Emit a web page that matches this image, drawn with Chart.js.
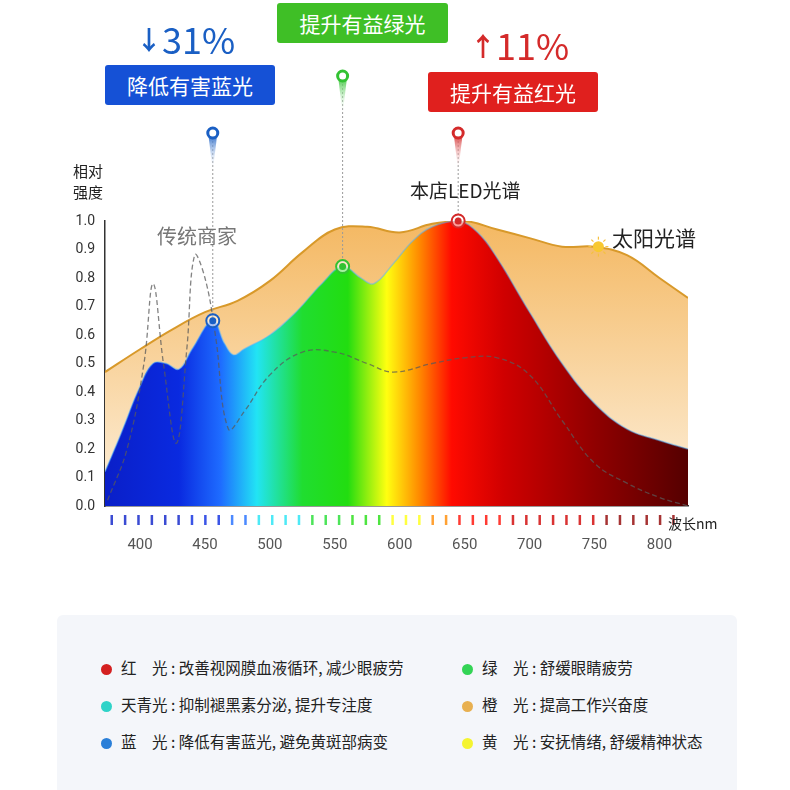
<!DOCTYPE html>
<html><head><meta charset="utf-8">
<script src="https://cdn.jsdelivr.net/npm/chart.js@4"></script>
<style>
body{margin:0;width:790px;height:790px;background:#fff;font-family:"Noto Sans CJK SC","Noto Sans",sans-serif;position:relative;overflow:hidden}
#c{position:absolute;left:0;top:0}
.t{position:absolute;white-space:nowrap}
.box{position:absolute;color:#fff;font-size:21px;text-align:center;line-height:40px;height:40px;border-radius:3px}
.legend{position:absolute;left:57px;top:615px;width:680px;height:180px;background:#f4f6fa;border-radius:6px}
.li{position:absolute;font-size:15.5px;color:#222}
.li i{display:inline-block;width:11px;height:11px;border-radius:50%;margin-right:9px;vertical-align:-1px}
</style></head><body>
<canvas id="c" width="790" height="790"></canvas>
<div class="t" style="left:136px;top:12px;font-size:36px;color:#1a5fc4"><b style="font-size:26px;vertical-align:4px">↓</b>31%</div>
<div class="box" style="left:105px;top:65px;width:170px;background:#1551d6">降低有害蓝光</div>
<div class="box" style="left:277px;top:3px;width:171px;background:#3fbf26">提升有益绿光</div>
<div class="t" style="left:470px;top:18px;font-size:36px;color:#d42a2a"><b style="font-size:26px;vertical-align:4px">↑</b>11%</div>
<div class="box" style="left:428px;top:72px;width:170px;background:#e0201e">提升有益红光</div>
<div class="t" style="left:410px;top:176px;font-size:19px;color:#222">本店LED光谱</div>
<div class="t" style="left:157px;top:221px;font-size:20px;color:#777">传统商家</div>
<div class="t" style="left:612px;top:222px;font-size:21px;color:#222">太阳光谱</div>
<div class="t" style="left:73px;top:160px;font-size:15px;color:#222;line-height:21px">相对<br>强度</div>
<div class="t" style="left:668px;top:513px;font-size:14px;color:#222">波长nm</div>
<div class="legend"></div>
<div id="leg"></div>
<script>
// wavelength (nm) / relative intensity
const sunNm  = [373, 400, 425, 450, 475, 500, 525, 550, 575, 600, 625, 650, 675, 700, 725, 750, 775, 800, 822];
const sunVal = [0.47, 0.55, 0.62, 0.68, 0.72, 0.79, 0.89, 0.97, 0.98, 0.96, 0.99, 1.0, 0.97, 0.94, 0.91, 0.91, 0.88, 0.80, 0.73];
const ledNm  = [373, 385, 400, 410, 420, 430, 440, 456, 465, 472, 480, 500, 520, 540, 556, 570, 580, 595, 610, 625, 645, 660, 675, 700, 725, 750, 775, 800, 822];
const ledVal = [0.12, 0.25, 0.42, 0.50, 0.50, 0.48, 0.55, 0.65, 0.57, 0.53, 0.55, 0.60, 0.68, 0.78, 0.84, 0.80, 0.78, 0.85, 0.93, 0.98, 1.0, 0.96, 0.87, 0.68, 0.50, 0.36, 0.27, 0.23, 0.20];
const oldNm  = [375, 390, 403, 410, 418, 428, 436, 442, 450, 458, 468, 480, 500, 525, 550, 575, 595, 625, 650, 675, 700, 725, 750, 775, 800, 822];
const oldVal = [0.02, 0.2, 0.5, 0.78, 0.5, 0.22, 0.55, 0.88, 0.8, 0.6, 0.27, 0.33, 0.46, 0.54, 0.54, 0.50, 0.47, 0.50, 0.52, 0.52, 0.46, 0.30, 0.15, 0.08, 0.03, 0.0];
const xTicks = [400, 450, 500, 550, 600, 650, 700, 750, 800];
const markers = [
  { nm: 456, v: 0.65, color: '#1a5fc4', pinY: 133 },
  { nm: 556, v: 0.84, color: '#32c232', pinY: 76 },
  { nm: 645, v: 1.0,  color: '#d42a2a', pinY: 133 },
];
const legendItems = [
  ['#d42020', '红　光 : 改善视网膜血液循环, 减少眼疲劳', 0, 0], ['#33d455', '绿　光 : 舒缓眼睛疲劳', 1, 0],
  ['#2fd3c8', '天青光 : 抑制褪黑素分泌, 提升专注度', 0, 1], ['#e8b050', '橙　光 : 提高工作兴奋度', 1, 1],
  ['#2a7fd8', '蓝　光 : 降低有害蓝光, 避免黄斑部病变', 0, 2], ['#f4f430', '黄　光 : 安抚情绪, 舒缓精神状态', 1, 2],
];
document.getElementById('leg').innerHTML = legendItems.map(([c, s, col, row]) =>
  `<div class="li" style="left:${col ? 462 : 101}px;top:${656 + row * 37}px"><i style="background:${c}"></i>${s}</div>`).join('');

const pts = (xs, ys) => xs.map((x, i) => ({ x, y: ys[i] }));

const spectrumStops = [[373,'#0a1fc8'],[430,'#0a2ae0'],[462,'#1e6cff'],[490,'#22e4f4'],[525,'#20dd30'],[560,'#22dd10'],[590,'#ffff10'],[615,'#ff8a00'],[640,'#ff0a00'],[680,'#d00000'],[750,'#900000'],[822,'#550000']];

const deco = {
  id: 'deco',
  beforeDatasetsDraw(ch) {
    // colored wavelength tick marks below axis
    const { ctx, scales: { x } } = ch;
    for (let nm = 378; nm <= 818; nm += 10.3) {
      const px = x.getPixelForValue(nm);
      let col = spectrumStops[0][1];
      spectrumStops.forEach(s => { if (nm >= s[0]) col = s[1]; });
      ctx.save(); ctx.globalAlpha = 0.8; ctx.fillStyle = col;
      ctx.fillRect(px - 1, 515, 2.5, 10); ctx.restore();
    }
  },
  afterDatasetsDraw(ch) {
    const { ctx, scales: { x, y } } = ch;
    markers.forEach(m => {
      const px = x.getPixelForValue(m.nm), py = y.getPixelForValue(m.v);
      ctx.save();
      ctx.setLineDash([2, 2]); ctx.strokeStyle = '#999'; ctx.lineWidth = 1;
      ctx.beginPath(); ctx.moveTo(px, m.pinY + 8); ctx.lineTo(px, py); ctx.stroke();
      ctx.setLineDash([]);
      const g = ctx.createLinearGradient(0, m.pinY, 0, m.pinY + 38);
      g.addColorStop(0, m.color); g.addColorStop(1, 'rgba(255,255,255,0)');
      ctx.fillStyle = g;
      ctx.beginPath(); ctx.moveTo(px - 4, m.pinY + 5); ctx.lineTo(px + 4, m.pinY + 5); ctx.lineTo(px, m.pinY + 38); ctx.fill();
      ctx.fillStyle = '#fff'; ctx.strokeStyle = m.color; ctx.lineWidth = 3;
      ctx.beginPath(); ctx.arc(px, m.pinY, 5, 0, 7); ctx.fill(); ctx.stroke();
      ctx.lineWidth = 2;
      ctx.beginPath(); ctx.arc(px, py, 6.5, 0, 7); ctx.fillStyle = 'rgba(255,255,255,0.6)'; ctx.fill(); ctx.stroke();
      ctx.beginPath(); ctx.arc(px, py, 3.5, 0, 7); ctx.fillStyle = m.color; ctx.fill();
      ctx.restore();
    });
    // sun icon
    const sx = x.getPixelForValue(753), sy = y.getPixelForValue(0.91);
    ctx.save(); ctx.fillStyle = '#f8c830'; ctx.strokeStyle = '#f5c040'; ctx.lineWidth = 1.2;
    for (let a = 0; a < 8; a++) { const t = a * Math.PI / 4; ctx.beginPath(); ctx.moveTo(sx + 7 * Math.cos(t), sy + 7 * Math.sin(t)); ctx.lineTo(sx + 10 * Math.cos(t), sy + 10 * Math.sin(t)); ctx.stroke(); }
    ctx.beginPath(); ctx.arc(sx, sy, 5.5, 0, 7); ctx.fill(); ctx.restore();
  }
};

new Chart(document.getElementById('c'), {
  type: 'line',
  data: {
    datasets: [
      { data: pts(oldNm, oldVal), borderColor: 'rgba(90,90,90,0.75)', borderWidth: 1.3, borderDash: [5, 3], fill: false, tension: 0.4, pointRadius: 0, order: 0 },
      { data: pts(ledNm, ledVal), borderColor: 'rgba(80,180,255,0.5)', borderWidth: 1.5, tension: 0.4, pointRadius: 0, order: 1, fill: 'origin',
        backgroundColor: (c) => {
          const { chart } = c; const a = chart.chartArea; if (!a) return '#f00';
          const x = chart.scales.x; const w = x.getPixelForValue(822) - x.getPixelForValue(373);
          const g = chart.ctx.createLinearGradient(x.getPixelForValue(373), 0, x.getPixelForValue(822), 0);
          spectrumStops.forEach(([nm, col]) => g.addColorStop((x.getPixelForValue(nm) - x.getPixelForValue(373)) / w, col));
          return g;
        } },
      { data: pts(sunNm, sunVal), borderColor: '#d8992a', borderWidth: 2, tension: 0.4, pointRadius: 0, order: 2, fill: 'origin',
        backgroundColor: (c) => {
          const a = c.chart.chartArea; if (!a) return '#f5c070';
          const g = c.chart.ctx.createLinearGradient(0, a.top, 0, a.bottom);
          g.addColorStop(0, '#f4b862'); g.addColorStop(1, '#fdf0dc'); return g;
        } },
    ]
  },
  options: {
    responsive: false, animation: false,
    layout: { padding: { left: 70, right: 102, top: 221, bottom: 234 } },
    plugins: { legend: { display: false }, tooltip: { enabled: false } },
    scales: {
      x: { type: 'linear', min: 373, max: 822,
        afterBuildTicks: s => { s.ticks = xTicks.map(v => ({ value: v })); },
        afterFit: s => { s.height = 50; },
        grid: { display: false, drawTicks: false }, border: { color: '#333', width: 1.5 },
        ticks: { padding: 30, color: '#555', font: { size: 15, family: 'Roboto' } } },
      y: { min: 0, max: 1.0,
        afterFit: s => { s.width = 35; },
        grid: { display: false, drawTicks: false }, border: { color: '#333', width: 1.5 },
        ticks: { stepSize: 0.1, padding: 10, color: '#333', font: { size: 14, family: 'Roboto' }, callback: v => v.toFixed(1) } }
    }
  },
  plugins: [deco]
});
</script>
</body></html>
